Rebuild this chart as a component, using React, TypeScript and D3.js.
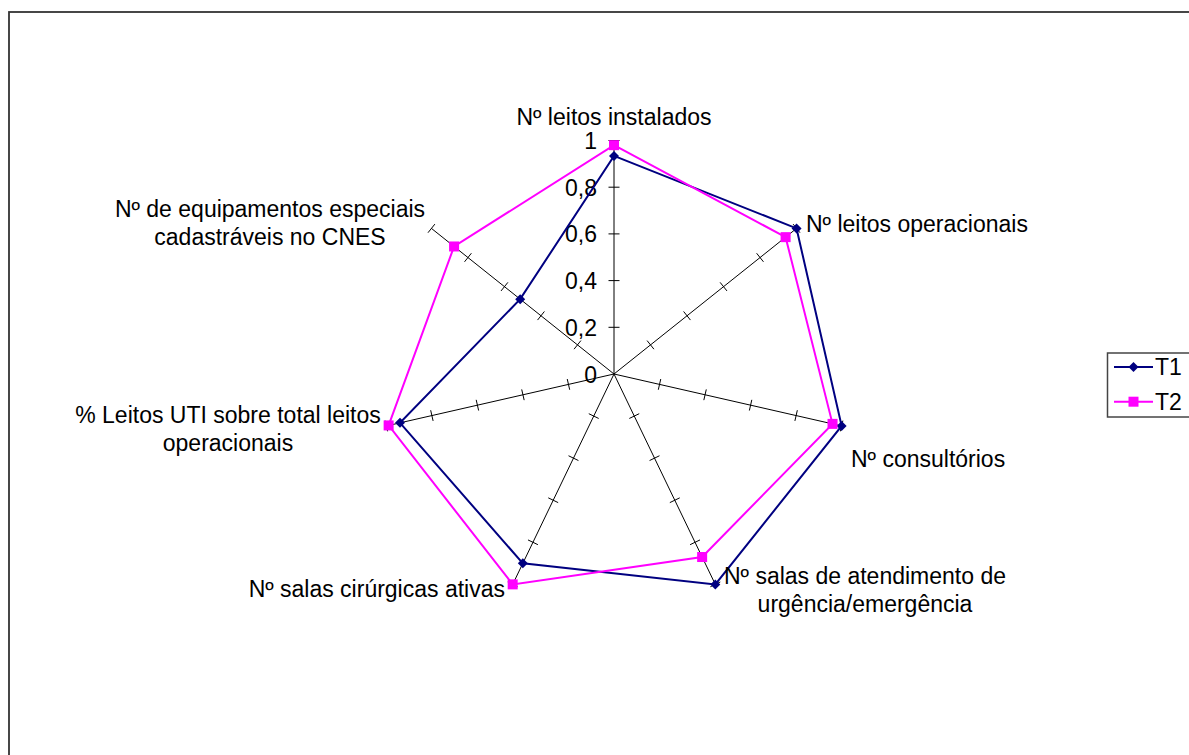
import React from "react";
import * as d3 from "d3";

const axes = [
  ["Nº leitos instalados"],
  ["Nº leitos operacionais"],
  ["Nº consultórios"],
  ["Nº salas de atendimento de", "urgência/emergência"],
  ["Nº salas cirúrgicas ativas"],
  ["% Leitos UTI sobre total leitos", "operacionais"],
  ["Nº de equipamentos especiais", "cadastráveis no CNES"],
];
const seriesNames = ["T1", "T2"];
const t1 = [0.934, 1.0, 1.0, 1.0, 0.9, 0.94, 0.514];
const t2 = [0.98, 0.94, 0.96, 0.87, 1.0, 0.99, 0.876];
const ticks = [0, 0.2, 0.4, 0.6, 0.8, 1];
const tickLabels = ["0", "0,2", "0,4", "0,6", "0,8", "1"];

const W = 1189;
const H = 755;
const cx = 614;
const cy = 374;
const FONT = "Arial, 'Liberation Sans', sans-serif";
const FS = 23;

// label layout: [x, baseline, anchor, lineGap]
const labelPos: [number, number, string][] = [
  [614, 125, "middle"],
  [806, 232, "start"],
  [851, 467, "start"],
  [865, 584, "middle"],
  [505, 597, "end"],
  [228, 423, "middle"],
  [270, 217, "middle"],
];

export default function App() {
  const r = d3.scaleLinear().domain([0, 1]).range([0, 233.5]);
  const n = axes.length;
  const ang = d3.scaleLinear().domain([0, n]).range([0, 2 * Math.PI]);
  const pt = (i: number, v: number): [number, number] => {
    const a = ang(i);
    return [cx + r(v) * Math.sin(a), cy - r(v) * Math.cos(a)];
  };
  const radial = d3
    .lineRadial<number>()
    .angle((_, i) => ang(i))
    .radius((v) => r(v))
    .curve(d3.curveLinearClosed);

  const colors = ["#000080", "#FF00FF"];
  const data = [t1, t2];

  const diamond = (x: number, y: number, s: number) =>
    `M${x},${y - s} L${x + s},${y} L${x},${y + s} L${x - s},${y} Z`;

  return (
    <div style={{ position: "fixed", left: 0, top: 0, width: W, height: H, background: "#fff" }}>
      <svg width={W} height={H} style={{ display: "block" }} fontFamily={FONT}>
        <rect x={0} y={0} width={W} height={H} fill="#fff" />
        <rect x={9} y={12} width={1400} height={1000} fill="none" stroke="#333" strokeWidth={1.8} />
        {/* axes */}
        {axes.map((_, i) => {
          const [x1, y1] = pt(i, 1);
          const a = ang(i);
          return (
            <g key={"ax" + i}>
              <line x1={cx} y1={cy} x2={x1} y2={y1} stroke="#000" strokeWidth={1} />
              {ticks.slice(1).map((t) => {
                const [tx, ty] = pt(i, t);
                const px = Math.cos(a) * 5.5;
                const py = Math.sin(a) * 5.5;
                return (
                  <line
                    key={t}
                    x1={tx - px}
                    y1={ty - py}
                    x2={tx + px}
                    y2={ty + py}
                    stroke="#000"
                    strokeWidth={1}
                  />
                );
              })}
            </g>
          );
        })}
        {/* tick labels */}
        {ticks.map((t, k) => (
          <text key={"tl" + k} x={597} y={cy - r(t) + 8.5} fontSize={FS} textAnchor="end" fill="#000">
            {tickLabels[k]}
          </text>
        ))}
        {/* series */}
        {data.map((d, s) => (
          <g key={"s" + s}>
            <path
              d={radial(d) || ""}
              transform={`translate(${cx},${cy})`}
              fill="none"
              stroke={colors[s]}
              strokeWidth={2}
            />
            {d.map((v, i) => {
              const [x, y] = pt(i, v);
              return s === 0 ? (
                <path key={i} d={diamond(x, y, 5)} fill={colors[s]} />
              ) : (
                <rect key={i} x={x - 5} y={y - 5} width={10} height={10} fill={colors[s]} />
              );
            })}
          </g>
        ))}
        {/* axis labels */}
        {axes.map((lines, i) => {
          const [x, y, anchor] = labelPos[i];
          return (
            <text key={"lb" + i} x={x} y={y} fontSize={FS} textAnchor={anchor as any} fill="#000">
              {lines.map((ln, j) => (
                <tspan key={j} x={x} dy={j === 0 ? 0 : 28}>
                  {ln}
                </tspan>
              ))}
            </text>
          );
        })}
        {/* legend */}
        <rect x={1107.5} y={353} width={120} height={64} fill="#fff" stroke="#444" strokeWidth={1.5} />
        {seriesNames.map((nm, s) => {
          const y = 367 + s * 34.7;
          return (
            <g key={"lg" + s}>
              <line x1={1114} y1={y} x2={1153} y2={y} stroke={colors[s]} strokeWidth={2} />
              {s === 0 ? (
                <path d={diamond(1133.5, y, 5)} fill={colors[s]} />
              ) : (
                <rect x={1128.5} y={y - 5} width={10} height={10} fill={colors[s]} />
              )}
              <text x={1155} y={y + 8} fontSize={FS} fill="#000">
                {nm}
              </text>
            </g>
          );
        })}
      </svg>
    </div>
  );
}
